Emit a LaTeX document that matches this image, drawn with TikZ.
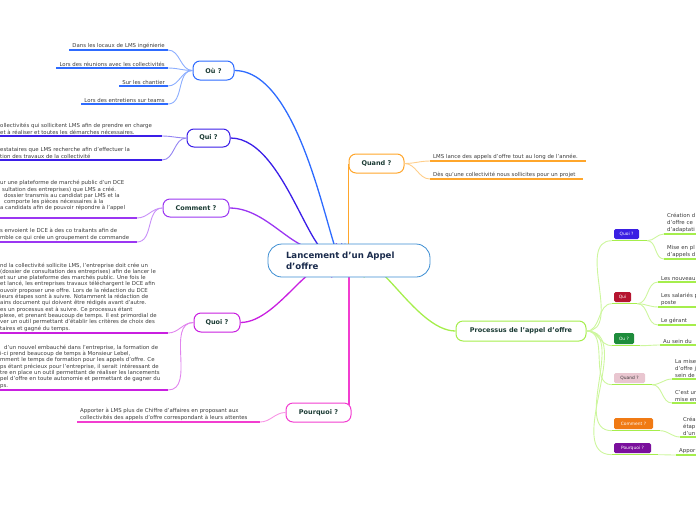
\documentclass[tikz,border=0pt]{standalone}
\usepackage{fontspec}
\setmainfont{DejaVu Sans}
\usetikzlibrary{backgrounds}

\definecolor{rootcol}{HTML}{3C8DD2}
\definecolor{oucol}{HTML}{2E6BFF}
\definecolor{quicol}{HTML}{3B1EE8}
\definecolor{comcol}{HTML}{9B36F2}
\definecolor{quoicol}{HTML}{C91FE0}
\definecolor{pqcol}{HTML}{F23DD0}
\definecolor{quandcol}{HTML}{FFA62B}
\definecolor{proccol}{HTML}{A5EE4C}
\definecolor{labelcol}{HTML}{1B3B34}
\definecolor{roottext}{HTML}{1A2B4C}
\definecolor{leafgray}{HTML}{3C3C3C}
\definecolor{tquoi}{HTML}{3A1FE3}
\definecolor{tqui}{HTML}{B51430}
\definecolor{tou}{HTML}{1E8C3C}
\definecolor{tquand}{HTML}{E9C6D0}
\definecolor{tcom}{HTML}{F07A14}
\definecolor{tpq}{HTML}{7A0F9C}

\newcommand{\leaffont}{\fontsize{5.4}{6.3}\selectfont}
\newcommand{\topicfont}{\fontsize{6.5}{8}\selectfont\bfseries}

\tikzset{
  topic/.style={draw=#1, line width=1pt, rounded corners=7pt, fill=white,
    text=labelcol, font=\topicfont, minimum height=19pt, inner xsep=2pt},
  leaf/.style={font=\leaffont, text=leafgray, inner xsep=3pt, inner ysep=1.6pt, align=left},
  rleaf/.style={leaf, font=\fontsize{5.4}{6.9}\selectfont, anchor=south west, text width=40pt},
  uline/.style={draw=#1, line width=1.8pt},
  mainline/.style={draw=#1, line width=1.3pt},
  twig/.style={draw=#1!55, line width=0.9pt},
  tag/.style={fill=#1, rounded corners=1.5pt, text=white,
    font=\fontsize{4.4}{5}\selectfont, inner sep=0pt, minimum height=10pt},
}

\begin{document}
\begin{tikzpicture}[x=1pt,y=-1pt]
\useasboundingbox (0,0) rectangle (696,520);

% centre
\node[draw=rootcol, line width=0.8pt, rounded corners=14pt, fill=white, minimum height=33pt,
  text width=126pt, inner xsep=18pt, align=left, text=roottext,
  font=\fontsize{8.6}{10.8}\selectfont\bfseries] (root) at (349,260.5) {Lancement d'un Appel\\d'offre};

% branches
\node[topic=oucol, minimum width=41pt] (ou) at (213.5,70.5) {Où ?};
\node[topic=quicol, minimum width=43pt, minimum height=18pt] (qui) at (208.5,138) {Qui ?};
\node[topic=comcol, minimum width=66pt, minimum height=18pt] (comment) at (196,208) {Comment ?};
\node[topic=quoicol, minimum width=46pt] (quoi) at (217,322.5) {Quoi ?};
\node[topic=pqcol, minimum width=65pt] (pourquoi) at (318.5,412.5) {Pourquoi ?};
\node[topic=quandcol, minimum width=55pt] (quand) at (376.5,163.5) {Quand ?};
\node[topic=proccol, minimum width=130pt, minimum height=20pt] (proc) at (521,331) {Processus de l'appel d'offre};

\begin{scope}[on background layer]
  \draw[mainline=oucol] ([xshift=-4pt]root.north) to[out=-95,in=0] (ou.east);
  \draw[mainline=quicol] ([xshift=-7pt]root.north) to[out=-115,in=0] (qui.east);
  \draw[mainline=comcol] ([xshift=-12pt]root.north) to[out=-145,in=0] (comment.east);
  \draw[mainline=quandcol] (quand.west |- root.north) -- (quand.west);
  \draw[mainline=quoicol] ([xshift=-17pt]root.south) to[out=110,in=0] (quoi.east);
  \draw[mainline=pqcol] ([xshift=-2.5pt]pourquoi.east |- root.center) -- ([xshift=-2.5pt]pourquoi.east);
  \draw[mainline=proccol] ([xshift=15pt]root.south) to[out=80,in=180] (proc.west);
\end{scope}

% ends of the underlines
\coordinate (quiend) at (162,0);
\coordinate (comend) at (137,0);
\coordinate (quoiend) at (168,0);
\coordinate (pqend) at (260,0);

% Où
\node[leaf, anchor=south east, align=right] (o1) at (168,50) {Dans les locaux de LMS ingénierie};
\node[leaf, anchor=south east, align=right] (o2) at (168,68) {Lors des réunions avec les collectivités};
\node[leaf, anchor=south east, align=right] (o3) at (168,86) {Sur les chantier};
\node[leaf, anchor=south east, align=right] (o4) at (168,104) {Lors des entretiens sur teams};
\foreach \l in {o1,o2,o3,o4} {
  \draw[uline=oucol] (\l.south west) -- (\l.south east);
  \draw[twig=oucol] (ou.west) to[out=180,in=0] (\l.south east);
}

% Qui
\node[leaf, anchor=south west] (q1) at (-3,136)
  {ollectivités qui sollicitent LMS afin de prendre en charge\\et à réaliser et toutes les démarches nécessaires.};
\node[leaf, anchor=south west] (q2) at (-3,160)
  {estataires que LMS recherche afin d'effectuer la\\tion des travaux de la collectivité};
\foreach \l in {q1,q2} {
  \draw[uline=quicol] (\l.south west) -- (\l.south west -| quiend);
  \draw[twig=quicol] (qui.west) to[out=180,in=0] (\l.south west -| quiend);
}

% Comment
\node[leaf, anchor=south west] (c1) at (-3,218)
  {ur une plateforme de marché public d'un DCE\\\hspace*{2pt}sultation des entreprises) que LMS a créé.\\\hspace*{4pt}dossier transmis au candidat par LMS et la\\\hspace*{4pt}comporte les pièces nécessaires à la\\a candidats afin de pouvoir répondre à l'appel\\\mbox{}};
\node[leaf, anchor=south west] (c2) at (-3,242)
  {s envoient le DCE à des co traitants afin de\\mble ce qui crée un groupement de commande};
\foreach \l in {c1,c2} {
  \draw[uline=comcol] (\l.south west) -- (\l.south west -| comend);
  \draw[twig=comcol] (comment.west) to[out=180,in=0] (\l.south west -| comend);
}

% Quoi
\node[leaf, anchor=south west] (k1) at (-3,333)
  {nd la collectivité sollicite LMS, l'entreprise doit crée un\\ (dossier de consultation des entreprises) afin de lancer le\\et sur une plateforme des marchés public. Une fois le\\et lancé, les entreprises travaux téléchargent le DCE afin\\ouvoir proposer une offre. Lors de la rédaction du DCE\\ieurs étapes sont à suivre. Notamment la rédaction de\\ains document qui doivent être rédigés avant d'autre.\\es un processus est à suivre. Ce processus étant\\plexe, et prenant beaucoup de temps. Il est primordial de\\ver un outil permettant d'établir les critères de choix des\\taires et gagné du temps.};
\node[leaf, anchor=south west] (k2) at (-3,390)
  {\hspace*{4pt}d'un nouvel embauché dans l'entreprise, la formation de\\i-ci prend beaucoup de temps à Monsieur Lebel,\\mment le temps de formation pour les appels d'offre. Ce\\ps étant précieux pour l'entreprise, il serait\, intéressant de\\tre en place un outil permettant de réaliser les lancements\\pel d'offre en toute autonomie et permettant de gagner du\\ps.};
\foreach \l in {k1,k2} {
  \draw[uline=quoicol] (\l.south west) -- (\l.south west -| quoiend);
  \draw[twig=quoicol] (quoi.west) to[out=180,in=0] (\l.south west -| quoiend);
}

% Pourquoi
\node[leaf, anchor=south west] (p1) at (77,422)
  {Apporter à LMS plus de Chiffre d'affaires en proposant aux\\collectivités des appels d'offre correspondant à leurs attentes};
\draw[uline=pqcol] (p1.south west) -- (p1.south west -| pqend);
\draw[twig=pqcol] (pourquoi.west) to[out=180,in=0] (p1.south west -| pqend);

% Quand
\node[leaf, anchor=south west, text width=150pt] (w1) at (430,161) {LMS lance des appels d'offre tout au long de l'année.};
\node[leaf, anchor=south west, text width=147pt] (w2) at (430,179) {Dès qu'une collectivité nous sollicites pour un projet};
\foreach \l in {w1,w2} {
  \draw[uline=quandcol] (\l.south west) -- (\l.south east);
  \draw[twig=quandcol] (quand.east) to[out=0,in=180] (\l.south west);
}

% Processus
\node[tag=tquoi, minimum width=25pt] (t1) at (626.5,234) {Quoi ?};
\node[tag=tqui, minimum width=17pt] (t2) at (622.5,297) {Qui};
\node[tag=tou, minimum width=20pt, minimum height=11pt] (t3) at (624,338.5) {Ou ?};
\node[tag=tquand, minimum width=31pt, text=leafgray] (t4) at (629.5,378) {Quand ?};
\node[tag=tcom, minimum width=39pt, minimum height=11pt] (t5) at (633.5,423.5) {Comment ?};
\node[tag=tpq, minimum width=37pt] (t6) at (632.5,448) {Pourquoi ?};
\foreach \t/\e in {t1/8,t2/6,t3/6,t4/7,t5/7,t6/7} {
  \coordinate (\t a) at ([shift={(-2,1.5)}]\t.south west);
  \coordinate (\t b) at ([shift={(\e,1.5)}]\t.south east);
  \draw[uline=proccol, line width=1.4pt] (\t a) -- (\t b);
  \draw[twig=proccol] (proc.east) to[out=0,in=180] (\t a);
}

\node[rleaf] (r11) at (664,234) {Création d\\d'offre ce\\d'adaptati};
\node[rleaf] (r12) at (664,259) {Mise en pl\\d'appels d};
\node[rleaf] (r21) at (658,282) {Les nouveau};
\node[rleaf] (r22) at (658,307) {Les salariés p\\poste};
\node[rleaf] (r23) at (658,325) {Le gérant};
\node[rleaf] (r31) at (660,345) {Au sein du};
\node[rleaf] (r41) at (672,379) {La mise\\d'offre j\\sein de};
\node[rleaf] (r42) at (672,403) {C'est ur\\mise en};
\node[rleaf] (r51) at (680,437) {Créa\\étap\\d'un};
\node[rleaf] (r61) at (676,455) {Appor};
\foreach \t/\l in {t1/r11,t1/r12,t2/r21,t2/r22,t2/r23,t3/r31,t4/r41,t4/r42,t5/r51,t6/r61} {
  \draw[uline=proccol] (\l.south west) -- (\l.south east);
  \draw[twig=proccol] (\t b) to[out=0,in=180] (\l.south west);
}
\end{tikzpicture}
\end{document}
